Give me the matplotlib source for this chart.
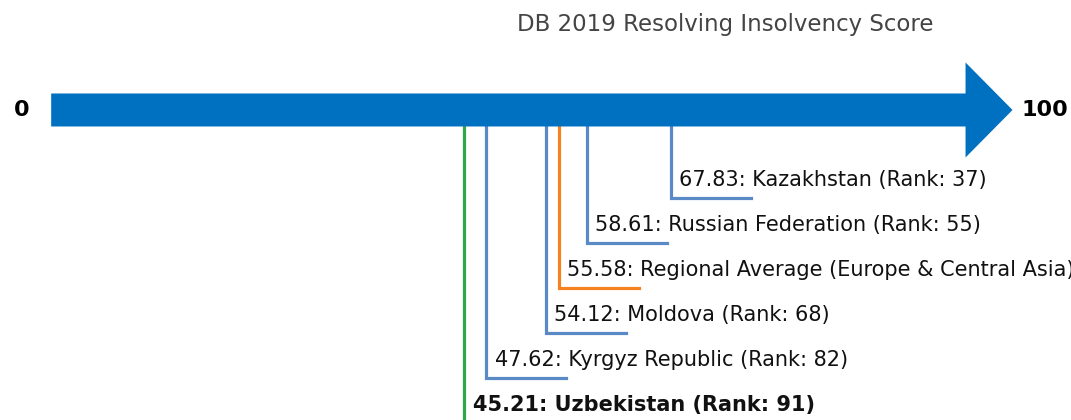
import matplotlib
matplotlib.use("Agg")
import matplotlib.pyplot as plt
from matplotlib.patches import FancyArrow

# data, top level to bottom level
countries = ["Kazakhstan", "Russian Federation", "Regional Average (Europe & Central Asia)",
             "Moldova", "Kyrgyz Republic", "Uzbekistan"]
scores = [67.83, 58.61, 55.58, 54.12, 47.62, 45.21]
ranks = [37, 55, None, 68, 82, 91]
colors = ["#5A8AC6", "#5A8AC6", "#F58220", "#5A8AC6", "#5A8AC6", "#2EA84A"]
title = "DB 2019 Resolving Insolvency Score"


def main():
    fig = plt.figure(figsize=(10.71, 4.2), dpi=100)
    ax = fig.add_axes([0, 0, 1, 1])
    ax.set_xlim(-5.6, 111.6)
    ax.set_ylim(-6.889, 2.444)
    ax.axis("off")

    arrow = FancyArrow(0, 0, 105.2, 0, width=33 / 45, head_width=95 / 45,
                       head_length=5.14, length_includes_head=True,
                       color="#0070C0", lw=0, zorder=3)
    ax.add_patch(arrow)
    ax.text(-2.4, 0, "0", ha="right", va="center", fontsize=16, fontweight="bold")
    ax.text(106.2, 0, "100", ha="left", va="center", fontsize=16, fontweight="bold")

    for i, (name, score, rank, c) in enumerate(zip(countries, scores, ranks, colors)):
        y = -(1.956 + i)
        ax.plot([score, score, score + 8.75], [0, y, y], color=c, lw=2.3,
                solid_joinstyle="miter", zorder=2)
        if rank is None:
            label = f"{score:.2f}: {name}"
        else:
            label = f"{score:.2f}: {name} (Rank: {rank})"
        bold = name == "Uzbekistan"
        ax.text(score + 0.9, y + 0.27, label, ha="left", va="baseline", fontsize=15,
                fontweight="bold" if bold else "normal", color="#111111")

    fig.text(725 / 1071, 1 - 25 / 420, title, ha="center", va="center",
             fontsize=16.5, color="#444444")
    fig.savefig("out.png", dpi=100)


if __name__ == "__main__":
    main()
